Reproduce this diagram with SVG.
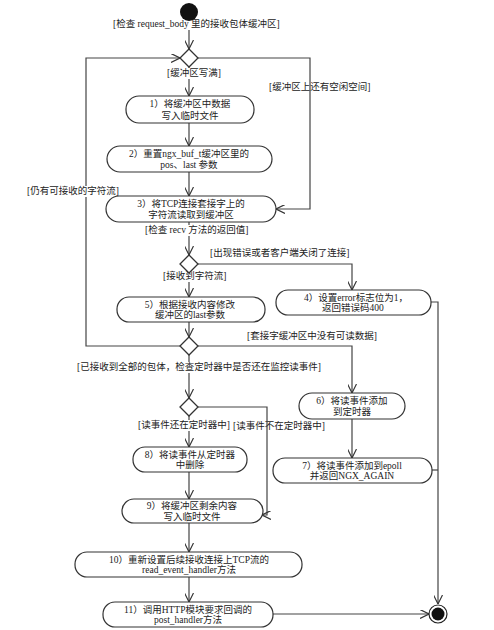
<svg xmlns="http://www.w3.org/2000/svg" width="494" height="630" viewBox="0 0 494 630">
<defs>
<style>
text{font-family:"Liberation Serif","Noto Sans CJK SC",serif;font-size:9.5px;fill:#222}
.n rect{fill:#fff;stroke:#333;stroke-width:1.2}
.n text{text-anchor:middle}
.d{fill:#fff;stroke:#333;stroke-width:1.3}
.bg{fill:#fff}
#edges path{fill:none;stroke:#444;stroke-width:1.2}
</style>
<marker id="a" viewBox="0 0 10 10" refX="10" refY="5" markerWidth="9" markerHeight="9" markerUnits="userSpaceOnUse" orient="auto">
<path d="M0,0 L10,5 L0,10" fill="none" stroke="#333" stroke-width="1.3"/>
</marker>
</defs>
<rect width="494" height="630" fill="#fff"/>

<g id="labels-under">
<text x="269" y="90">[缓冲区上还有空闲空间]</text>
<text x="233" y="429">[读事件不在定时器中]</text>
</g>

<g id="edges">
<path d="M189,21 V49" marker-end="url(#a)"/>
<path d="M189,67 V96" marker-end="url(#a)"/>
<path d="M189,123 V146" marker-end="url(#a)"/>
<path d="M189,172 V196" marker-end="url(#a)"/>
<path d="M189,222 V255" marker-end="url(#a)"/>
<path d="M198,264 H352 V290" marker-end="url(#a)"/>
<path d="M189,273 V297" marker-end="url(#a)"/>
<path d="M189,322 V337" marker-end="url(#a)"/>
<path d="M180,346 H86 V58 H180" marker-end="url(#a)"/>
<path d="M198,58 H310 V209 H276" marker-end="url(#a)"/>
<path d="M198,346 H352 V393" marker-end="url(#a)"/>
<path d="M189,355 V398" marker-end="url(#a)"/>
<path d="M198,407 H267 V515 H262" marker-end="url(#a)"/>
<path d="M189,416 V447" marker-end="url(#a)"/>
<path d="M189,472 V499" marker-end="url(#a)"/>
<path d="M189,523 V552" marker-end="url(#a)"/>
<path d="M189,577 V602" marker-end="url(#a)"/>
<path d="M352,419 V458" marker-end="url(#a)"/>
<path d="M431,302 H438 V604" marker-end="url(#a)"/>
<path d="M432,470 H438"/>
<path d="M273,614 H429" marker-end="url(#a)"/>
</g>

<g id="labels">
<rect class="bg" x="112" y="19" width="170" height="11"/>
<text x="113" y="27">[检查 request_body 里的接收包体缓冲区]</text>
<rect class="bg" x="166" y="68" width="58" height="11"/>
<text x="167" y="76">[缓冲区写满]</text>
<rect class="bg" x="26" y="186" width="93" height="11"/>
<text x="27" y="194">[仍有可接收的字符流]</text>
<rect class="bg" x="144" y="225" width="134" height="11"/>
<text x="145" y="233">[检查 recv 方法的返回值]</text>
<text x="210" y="256">[出现错误或者客户端关闭了连接]</text>
<rect class="bg" x="162" y="271" width="67" height="11"/>
<text x="163" y="279">[接收到字符流]</text>
<text x="247" y="339">[套接字缓冲区中没有可读数据]</text>
<rect class="bg" x="76" y="362" width="248" height="11"/>
<text x="77" y="370">[已接收到全部的包体，检查定时器中是否还在监控读事件]</text>
<rect class="bg" x="137" y="420" width="95" height="11"/>
<text x="138" y="428">[读事件还在定时器中]</text>
</g>

<g id="start"><circle cx="189" cy="12" r="9" fill="#111"/></g>
<g id="end"><circle cx="438" cy="614" r="9" fill="#fff" stroke="#222" stroke-width="1.2"/><circle cx="438" cy="614" r="6.5" fill="#111"/></g>

<g id="dec1"><path class="d" d="M189,49 L198,58 L189,67 L180,58 Z"/></g>
<g id="dec2"><path class="d" d="M189,255 L198,264 L189,273 L180,264 Z"/></g>
<g id="dec3"><path class="d" d="M189,337 L198,346 L189,355 L180,346 Z"/></g>
<g id="dec4"><path class="d" d="M189,398 L198,407 L189,416 L180,407 Z"/></g>

<g id="n1" class="n"><rect x="126" y="96" width="128" height="27" rx="13"/><text x="190" y="107">1）将缓冲区中数据</text><text x="190" y="119">写入临时文件</text></g>
<g id="n2" class="n"><rect x="107" y="146" width="165" height="26" rx="13"/><text x="189" y="157">2）重置ngx_buf_t缓冲区里的</text><text x="189" y="168">pos、last 参数</text></g>
<g id="n3" class="n"><rect x="106" y="196" width="170" height="26" rx="13"/><text x="191" y="207">3）将TCP连接套接字上的</text><text x="191" y="218">字符流读取到缓冲区</text></g>
<g id="n4" class="n"><rect x="276" y="290" width="155" height="25" rx="12"/><text x="356" y="301">4）设置error标志位为1，</text><text x="353" y="311">返回错误码400</text></g>
<g id="n5" class="n"><rect x="117" y="297" width="148" height="25" rx="12"/><text x="190" y="308">5）根据接收内容修改</text><text x="190" y="318">缓冲区的last参数</text></g>
<g id="n6" class="n"><rect x="299" y="393" width="106" height="26" rx="13"/><text x="352" y="404">6）将读事件添加</text><text x="352" y="415">到定时器</text></g>
<g id="n7" class="n"><rect x="273" y="458" width="159" height="25" rx="12"/><text x="352" y="469">7）将读事件添加到epoll</text><text x="352" y="479">并返回NGX_AGAIN</text></g>
<g id="n8" class="n"><rect x="133" y="447" width="114" height="25" rx="12"/><text x="190" y="458">8）将读事件从定时器</text><text x="190" y="468">中删除</text></g>
<g id="n9" class="n"><rect x="122" y="499" width="141" height="24" rx="12"/><text x="192" y="509">9）将缓冲区剩余内容</text><text x="192" y="520">写入临时文件</text></g>
<g id="n10" class="n"><rect x="75" y="552" width="227" height="25" rx="12"/><text x="189" y="563">10）重新设置后续接收连接上TCP流的</text><text x="189" y="573">read_event_handler方法</text></g>
<g id="n11" class="n"><rect x="103" y="602" width="170" height="25" rx="12"/><text x="188" y="613">11）调用HTTP模块要求回调的</text><text x="188" y="623">post_handler方法</text></g>
</svg>
